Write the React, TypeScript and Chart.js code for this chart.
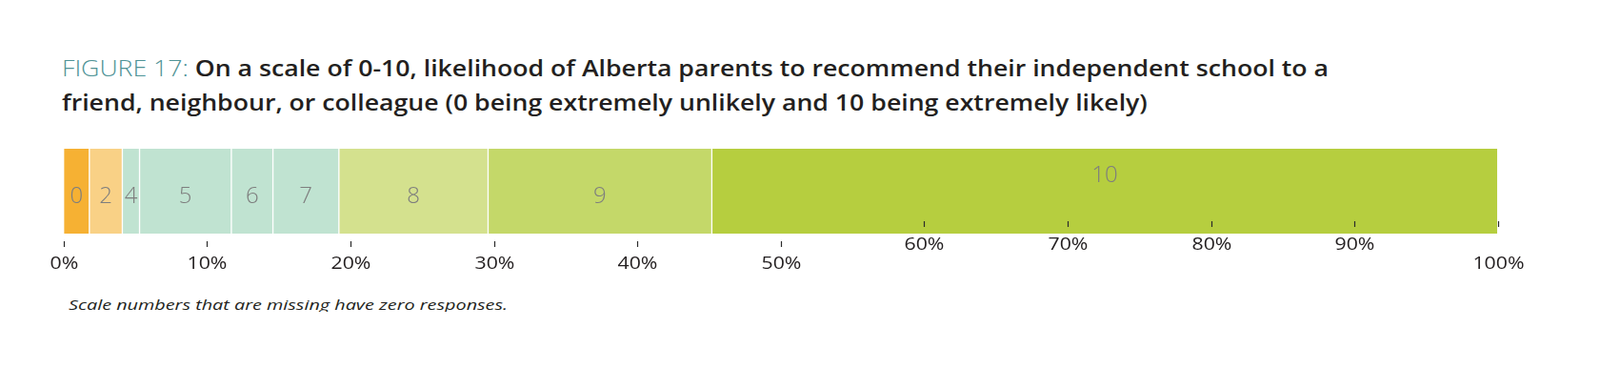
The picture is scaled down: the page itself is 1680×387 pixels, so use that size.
import React, { useEffect, useRef } from "react";
import { Chart, registerables } from "chart.js";

Chart.register(...registerables);

const CATEGORIES = ["0", "2", "4", "5", "6", "7", "8", "9", "10"];
const VALUES = [1.8, 2.3, 1.2, 6.4, 2.9, 4.6, 10.4, 15.6, 54.8];
const COLORS = [
  "#F6B133",
  "#F9D186",
  "#C0E3D1",
  "#C0E3D1",
  "#C0E3D1",
  "#C0E3D1",
  "#D4E18E",
  "#C4D869",
  "#B6CE3F",
];
const TICK_VALUES = [0, 10, 20, 30, 40, 50, 60, 70, 80, 90, 100];
const TICK_LABELS = ["0%", "10%", "20%", "30%", "40%", "50%", "60%", "70%", "80%", "90%", "100%"];

const TITLE_PREFIX = "FIGURE 17:";
const TITLE_LINE1 = " On a scale of 0-10, likelihood of Alberta parents to recommend their independent school to a";
const TITLE_LINE2 = "friend, neighbour, or colleague (0 being extremely unlikely and 10 being extremely likely)";
const NOTE = "Scale numbers that are missing have zero responses.";

const FONT = "'Open Sans', 'Noto Sans', sans-serif";

const segmentLabels = {
  id: "segmentLabels",
  afterDatasetsDraw(chart: any) {
    const ctx = chart.ctx;
    const area = chart.chartArea;
    const midY = (area.top + area.bottom) / 2;
    ctx.save();
    ctx.font = `300 24px ${FONT}`;
    ctx.fillStyle = "#7E7E7E";
    ctx.textAlign = "center";
    ctx.textBaseline = "middle";
    chart.data.datasets.forEach((ds: any, i: number) => {
      const meta = chart.getDatasetMeta(i);
      const el = meta.data[0];
      if (!el) return;
      const cx = (el.x + el.base) / 2;
      const dy = ds.label === "10" ? -16 : 6;
      ctx.fillText(ds.label, cx, midY + dy);
    });
    ctx.restore();
  },
};

const customAxis = {
  id: "customAxis",
  afterDraw(chart: any) {
    const ctx = chart.ctx;
    const xs = chart.scales.x;
    const area = chart.chartArea;
    ctx.save();
    ctx.strokeStyle = "#2B2B2B";
    ctx.lineWidth = 1.2;
    ctx.fillStyle = "#231F20";
    ctx.font = `400 19px ${FONT}`;
    ctx.textAlign = "center";
    ctx.textBaseline = "middle";
    TICK_VALUES.forEach((v, i) => {
      const px = Math.round(xs.getPixelForValue(v)) + 0.5;
      const raisedTick = v >= 60;
      const raisedLabel = v >= 60 && v < 100;
      const t0 = raisedTick ? area.bottom - 13 : area.bottom + 8;
      ctx.beginPath();
      ctx.moveTo(px, t0);
      ctx.lineTo(px, t0 + 6);
      ctx.stroke();
      const ly = raisedLabel ? area.bottom + 12 : area.bottom + 32;
      ctx.save();
      ctx.translate(px, ly);
      ctx.scale(1.12, 1);
      ctx.fillText(TICK_LABELS[i], 0, 0);
      ctx.restore();
    });
    ctx.restore();
  },
};

export default function App() {
  const canvasRef = useRef<HTMLCanvasElement | null>(null);
  const line1Ref = useRef<HTMLDivElement | null>(null);
  const line2Ref = useRef<HTMLDivElement | null>(null);
  const noteRef = useRef<HTMLSpanElement | null>(null);

  useEffect(() => {
    // stretch title and note horizontally to the reference widths
    const stretch = (el: HTMLElement | null, target: number) => {
      if (!el) return 1;
      el.style.transform = "none";
      const w = el.getBoundingClientRect().width;
      return w > 0 ? target / w : 1;
    };
    const s1 = stretch(line1Ref.current, 1330);
    [line1Ref.current, line2Ref.current].forEach((el) => {
      if (el) {
        el.style.transformOrigin = "0 50%";
        el.style.transform = `scaleX(${s1})`;
      }
    });
    const sn = stretch(noteRef.current, 461);
    if (noteRef.current) {
      noteRef.current.style.transformOrigin = "0 50%";
      noteRef.current.style.transform = `scaleX(${sn})`;
    }

    const canvas = canvasRef.current;
    if (!canvas) return;
    const chart = new Chart(canvas, {
      type: "bar",
      data: {
        labels: [""],
        datasets: CATEGORIES.map((c, i) => ({
          label: c,
          data: [VALUES[i]],
          backgroundColor: COLORS[i],
          borderColor: "#FFFFFF",
          borderWidth: { left: 1, right: 1, top: 0, bottom: 0 },
          borderSkipped: false,
          barPercentage: 1,
          categoryPercentage: 1,
        })),
      },
      options: {
        indexAxis: "y",
        responsive: false,
        animation: false,
        layout: { padding: { left: 58.7, right: 99.3, top: 16, bottom: 55 } },
        scales: {
          x: { stacked: true, min: 0, max: 100, display: false },
          y: { stacked: true, display: false },
        },
        plugins: {
          legend: { display: false },
          tooltip: { enabled: false },
          title: { display: false },
        },
      },
      plugins: [segmentLabels, customAxis],
    } as any);
    return () => chart.destroy();
  }, []);

  return (
    <div style={{ position: "relative", width: 1664, height: 371, overflow: "hidden" }}>
      <div
        style={{
          position: "absolute",
          left: 57,
          top: 44.7,
          width: 1500,
          fontFamily: FONT,
          fontSize: 24,
          lineHeight: "36px",
          fontWeight: 600,
          color: "#231F20",
          whiteSpace: "nowrap",
        }}
      >
        <div ref={line1Ref} style={{ display: "inline-block" }}>
          <span style={{ color: "#4F9396", fontWeight: 300 }}>{TITLE_PREFIX}</span>
          {TITLE_LINE1}
        </div>
        <br />
        <div ref={line2Ref} style={{ display: "inline-block" }}>
          {TITLE_LINE2}
        </div>
      </div>
      <canvas
        ref={canvasRef}
        width={1664}
        height={160}
        style={{ position: "absolute", left: 0, top: 132, display: "block" }}
      />
      <div
        style={{
          position: "absolute",
          left: 64,
          top: 302,
          width: 700,
          height: 16.5,
          overflow: "hidden",
          fontFamily: FONT,
          fontStyle: "italic",
          fontSize: 15,
          lineHeight: "18px",
          color: "#231F20",
          whiteSpace: "nowrap",
        }}
      >
        <span ref={noteRef} style={{ display: "inline-block" }}>{NOTE}</span>
      </div>
    </div>
  );
}
